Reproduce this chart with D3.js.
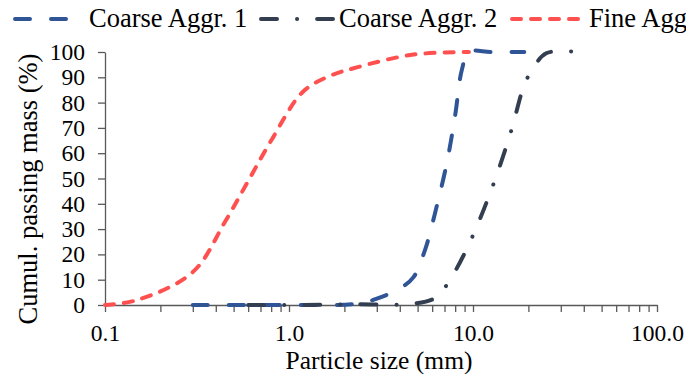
<!DOCTYPE html>
<html>
<head>
<meta charset="utf-8">
<script src="https://cdn.jsdelivr.net/npm/d3@7"></script>
<style>
  body { margin: 0; background: #fff; }
  svg text { font-family: "Liberation Serif", Tinos, "Nimbus Roman", "DejaVu Serif", serif; fill: #000; }
</style>
</head>
<body>
<svg id="chart" width="686" height="374"></svg>
<script>

// particle size (mm) and cumulative passing (%)
const coarse1Size = [ 0.3, 0.6, 1.18, 2.36, 3.0, 4.0, 4.75, 5.5, 6.3, 7.2, 8.0, 8.7, 9.5, 12.5, 19 ];
const coarse1Pass = [ 0, 0, 0, 0.5, 2.5, 6.5, 11, 22, 38, 56, 75, 93, 100, 100, 100 ];

const coarse2Size = [ 0.6, 1.18, 2.36, 4.75, 6.3, 7.5, 9.5, 12.5, 16, 19, 21, 25, 37.5 ];
const coarse2Pass = [ 0, 0, 0.3, 0.5, 3, 10, 24, 45, 68, 87, 93, 99.5, 100 ];

const fineSize = [ 0.1, 0.15, 0.3, 0.45, 0.6, 0.8, 1.18, 1.6, 2.36, 4.75, 9.5 ];
const finePass = [ 0, 2, 13, 33, 49, 65, 84, 90, 94, 99, 100 ];

const seriesNames = [ "Coarse Aggr. 1", "Coarse Aggr. 2", "Fine Aggr." ];
const yTicks = [ 0, 10, 20, 30, 40, 50, 60, 70, 80, 90, 100 ];
const xMajor = [ 0.1, 1, 10, 100 ];

const series = [
  { name: seriesNames[ 0 ], size: coarse1Size, pass: coarse1Pass, color: "#2F5597", dash: "15,21" },
  { name: seriesNames[ 1 ], size: coarse2Size, pass: coarse2Pass, color: "#333F50", dash: "16,20,0.1,20" },
  { name: seriesNames[ 2 ], size: fineSize, pass: finePass, color: "#FF5050", dash: "9,10" }
];

const fontStack = "'Liberation Serif', Tinos, 'Nimbus Roman', 'DejaVu Serif', serif";

const svg = d3.select( "#chart" );

const x = d3.scaleLog()
  .domain( [ 0.1, 100 ] )
  .range( [ 105, 657 ] );

const y = d3.scaleLinear()
  .domain( [ 0, 100 ] )
  .range( [ 305, 52 ] );

// minor + major ticks on the log axis
let xTickVals = [];
xMajor.slice( 0, 3 ).forEach( d => {
  for( let k = 1; k < 10; k++ ) xTickVals.push( +( d * k ).toPrecision( 3 ) );
} );
xTickVals.push( 100 );

const xAxis = svg.append( "g" )
  .attr( "transform", "translate(0," + y( 0 ) + ")" )
  .call( d3.axisBottom( x )
    .tickValues( xTickVals )
    .tickSize( 7 )
    .tickSizeOuter( 0 )
    .tickPadding( 12 )
    .tickFormat( d => xMajor.includes( d ) ? d3.format( ".1f" )( d ) : "" ) );

const yAxis = svg.append( "g" )
  .attr( "transform", "translate(" + x( 0.1 ) + ",0)" )
  .call( d3.axisLeft( y )
    .tickValues( yTicks )
    .tickSize( 7 )
    .tickSizeOuter( 0 )
    .tickPadding( 13 ) );

[ xAxis, yAxis ].forEach( g => {
  g.attr( "font-family", null );
  g.selectAll( "path, line" ).attr( "stroke", "#595959" ).attr( "stroke-width", 1.3 );
  g.selectAll( "text" )
    .style( "font-family", fontStack )
    .style( "font-size", "23.5px" )
    .attr( "fill", "#000" );
} );

// axis titles
svg.append( "text" )
  .attr( "x", 379 )
  .attr( "y", 369 )
  .attr( "text-anchor", "middle" )
  .style( "font-family", fontStack )
  .style( "font-size", "25.5px" )
  .text( "Particle size (mm)" );

svg.append( "text" )
  .attr( "transform", "translate(37,189) rotate(-90)" )
  .attr( "text-anchor", "middle" )
  .style( "font-family", fontStack )
  .style( "font-size", "26.5px" )
  .text( "Cumul. passing mass (%)" );

// curves
const line = d3.line()
  .x( d => x( d[ 0 ] ) )
  .y( d => y( d[ 1 ] ) )
  .curve( d3.curveCatmullRom.alpha( 0.5 ) );

svg.selectAll( "path.series" )
  .data( series )
  .enter().append( "path" )
    .attr( "class", "series" )
    .attr( "d", s => line( s.size.map( ( v, i ) => [ v, s.pass[ i ] ] ) ) )
    .attr( "fill", "none" )
    .attr( "stroke", s => s.color )
    .attr( "stroke-width", 4 )
    .attr( "stroke-linecap", "round" )
    .attr( "stroke-dasharray", s => s.dash );

// legend
const legendX = [ 15, 261, 512 ];
const legendLen = [ 51, 72, 66 ];
const legendText = [ 89, 339, 589 ];

const legend = svg.selectAll( "g.legend" )
  .data( series )
  .enter().append( "g" )
    .attr( "class", "legend" );

legend.append( "line" )
  .attr( "x1", ( d, i ) => legendX[ i ] )
  .attr( "x2", ( d, i ) => legendX[ i ] + legendLen[ i ] )
  .attr( "y1", 19 )
  .attr( "y2", 19 )
  .attr( "stroke", d => d.color )
  .attr( "stroke-width", 4 )
  .attr( "stroke-linecap", "round" )
  .attr( "stroke-dasharray", d => d.dash );

legend.append( "text" )
  .attr( "x", ( d, i ) => legendText[ i ] )
  .attr( "y", 27 )
  .style( "font-family", fontStack )
  .style( "font-size", "26.5px" )
  .text( d => d.name );

</script>
</body>
</html>
